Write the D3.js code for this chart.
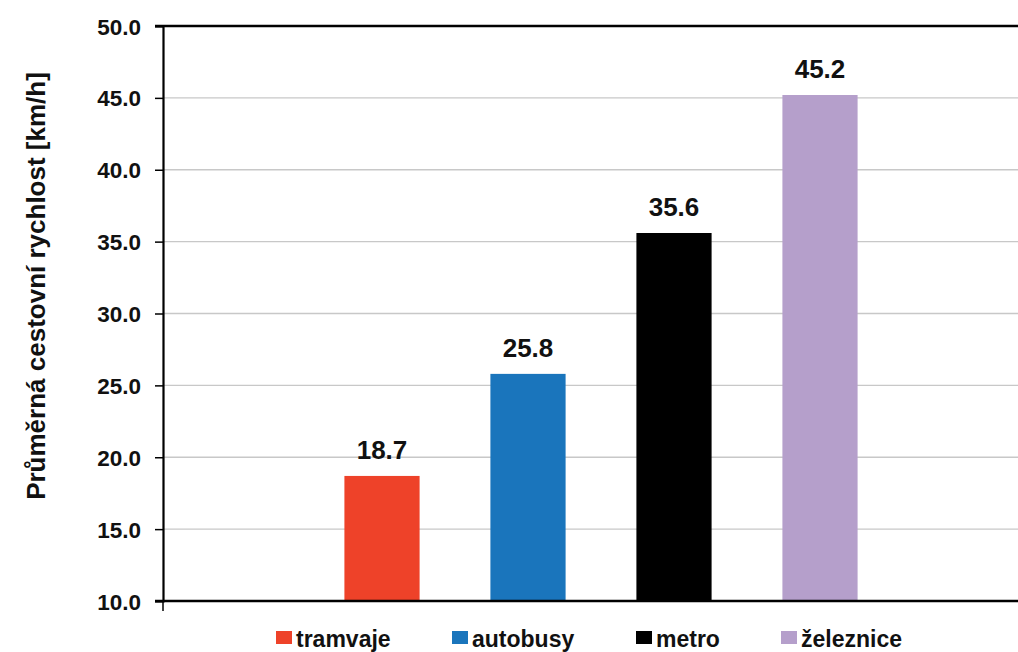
<!DOCTYPE html>
<html>
<head>
<meta charset="utf-8">
<script src="https://cdn.jsdelivr.net/npm/d3@7"></script>
<style>
  body { margin: 0; background: #fff; }
  text { font-family: "Liberation Sans", Arial, sans-serif; font-weight: bold; fill: #111; }
</style>
</head>
<body>
<svg id="chart" width="1018" height="652"></svg>
<script>
// data
const categories = ["tramvaje", "autobusy", "metro", "železnice"];
const speeds = [18.7, 25.8, 35.6, 45.2];
const colors = ["#ee4229", "#1a75bc", "#000000", "#b59fcb"];
const yTicks = [10, 15, 20, 25, 30, 35, 40, 45, 50];
const yTitle = "Průměrná cestovní rychlost [km/h]";

// the category axis has an empty slot at each end
const slots = ["_a"].concat(categories, ["_b"]);

const svg = d3.select("#chart");
const plotLeft = 163, plotTop = 26, plotBottom = 601, plotRight = 1039;

const x = d3.scaleBand().domain(slots).range([plotLeft, plotRight]).paddingInner(0.485).paddingOuter(0.2425);
const y = d3.scaleLinear().domain([10, 50]).range([plotBottom, plotTop]);

// gridlines
svg.append("g")
  .selectAll("line")
  .data(yTicks.slice(1, -1))
  .join("line")
  .attr("x1", plotLeft)
  .attr("x2", 1018)
  .attr("y1", d => y(d))
  .attr("y2", d => y(d))
  .attr("stroke", "#c8c8c8")
  .attr("stroke-width", 1.3);

// bars
svg.append("g")
  .selectAll("rect")
  .data(categories)
  .join("rect")
  .attr("x", d => x(d))
  .attr("width", x.bandwidth())
  .attr("y", (d, i) => y(speeds[i]))
  .attr("height", (d, i) => y(10) - y(speeds[i]))
  .attr("fill", (d, i) => colors[i]);

// value labels
svg.append("g")
  .selectAll("text")
  .data(categories)
  .join("text")
  .attr("x", d => x(d) + x.bandwidth() / 2)
  .attr("y", (d, i) => y(speeds[i]) - 17)
  .attr("text-anchor", "middle")
  .attr("font-size", "26px")
  .text((d, i) => speeds[i].toFixed(1));

// y axis
const yAxis = d3.axisLeft(y)
  .tickValues(yTicks)
  .tickFormat(d3.format(".1f"))
  .tickSize(8)
  .tickPadding(14);

const ya = svg.append("g")
  .attr("transform", "translate(" + plotLeft + ",0)")
  .call(yAxis);
ya.select(".domain").attr("stroke", "#000").attr("stroke-width", 2.2);
ya.selectAll(".tick line").attr("stroke", "#000").attr("stroke-width", 1.5);
ya.selectAll(".tick text")
  .attr("font-size", "22.5px")
  .attr("font-family", "Liberation Sans, Arial, sans-serif")
  .attr("font-weight", "bold")
  .attr("fill", "#111")
  .attr("dy", "0.36em");

// top border and baseline
svg.append("line")
  .attr("x1", plotLeft - 8).attr("x2", 1018)
  .attr("y1", plotTop).attr("y2", plotTop)
  .attr("stroke", "#000").attr("stroke-width", 2.6);
svg.append("line")
  .attr("x1", plotLeft - 8).attr("x2", 1018)
  .attr("y1", plotBottom).attr("y2", plotBottom)
  .attr("stroke", "#000").attr("stroke-width", 2.4);
svg.append("line")
  .attr("x1", plotLeft).attr("x2", plotLeft)
  .attr("y1", plotBottom).attr("y2", plotBottom + 10)
  .attr("stroke", "#000").attr("stroke-width", 1.5);

// y title
svg.append("text")
  .attr("transform", "translate(45,286) rotate(-90)")
  .attr("text-anchor", "middle")
  .attr("font-size", "26px")
  .text(yTitle);

// legend
const legendX = [276, 452, 636, 781];
const legend = svg.append("g")
  .selectAll("g")
  .data(categories)
  .join("g")
  .attr("transform", (d, i) => "translate(" + legendX[i] + ",631)");
legend.append("rect")
  .attr("width", 16)
  .attr("height", 13)
  .attr("fill", (d, i) => colors[i]);
legend.append("text")
  .attr("x", 20)
  .attr("y", 16)
  .attr("font-size", "23px")
  .text(d => d);
</script>
</body>
</html>
